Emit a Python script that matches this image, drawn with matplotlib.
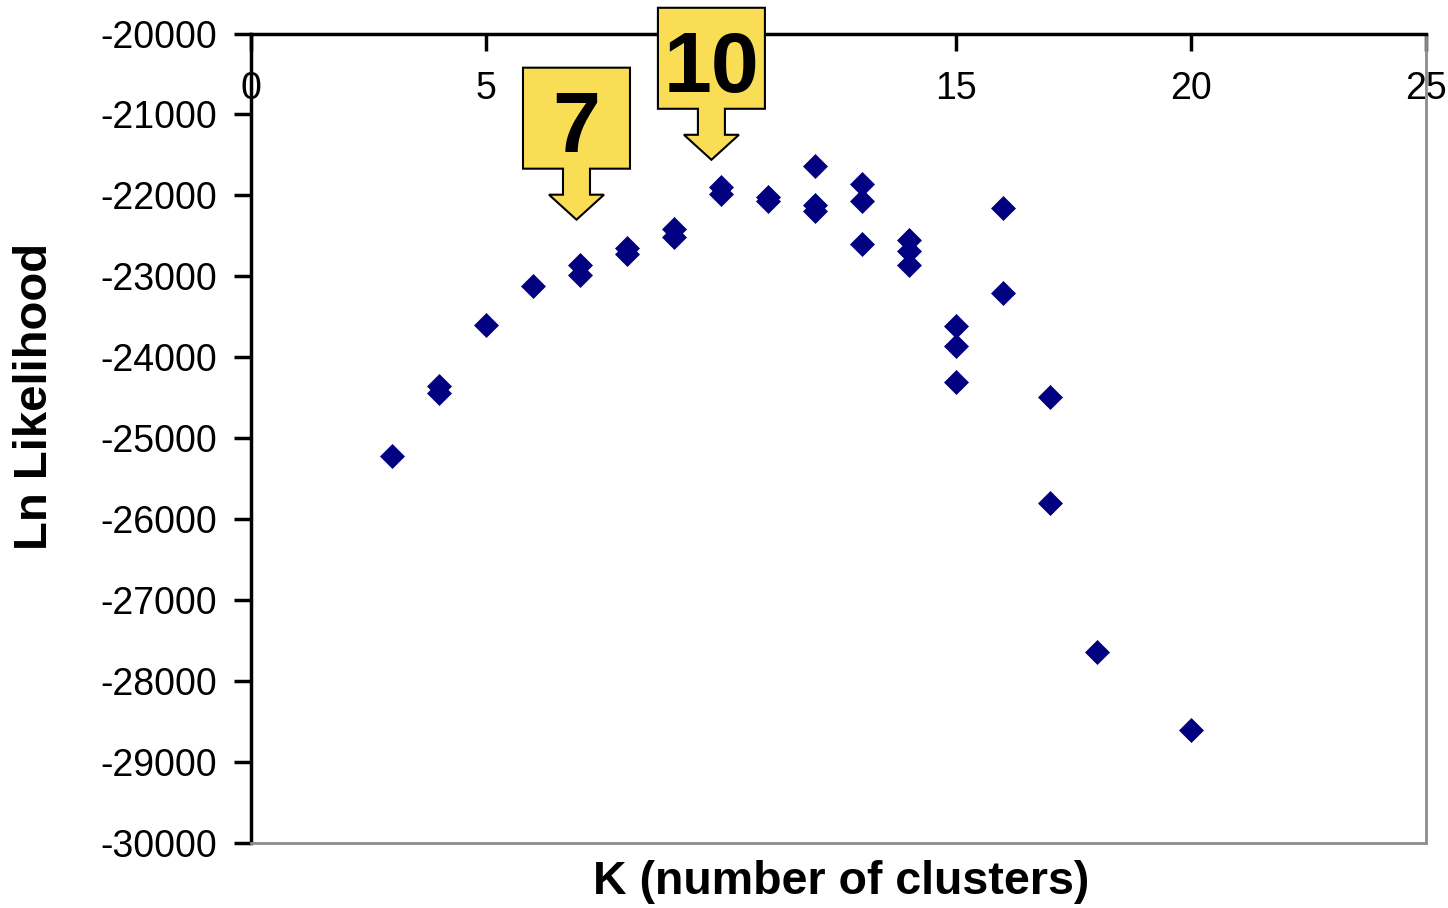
import numpy as np
import matplotlib
matplotlib.use("Agg")
import matplotlib.pyplot as plt
from matplotlib.patches import Polygon

plt.rcParams['font.family'] = ['Liberation Sans', 'DejaVu Sans']

# runs of the clustering for each K
k_values = [3, 4, 4, 5, 6, 7, 7, 8, 8, 9, 9, 10, 10, 11, 11,
            12, 12, 12, 13, 13, 13, 14, 14, 14, 15, 15, 15,
            16, 16, 17, 17, 18, 20]
ln_likelihood = [-25225, -24352, -24435, -23603, -23125, -22862, -22985,
                 -22644, -22726, -22421, -22508, -21894, -21977, -22023, -22065,
                 -21631, -22117, -22195, -21853, -22067, -22597,
                 -22557, -22683, -22857, -23611, -23858, -24307,
                 -22158, -23209, -24486, -25798, -27640, -28606]

x_ticks = [0, 5, 10, 15, 20, 25]
y_ticks = list(range(-30000, -19999, 1000))

# callouts pointing at the chosen K
callout_labels = ["7", "10"]
callout_k = [6.93, 9.80]
callout_y = [-22300, -21560]

W, H = 1448, 908
fig = plt.figure(figsize=(W / 100, H / 100), dpi=100)
ax = fig.add_axes([250.7 / W, 1 - 843 / H, (1426 - 250.7) / W, (843 - 33.5) / H])

ax.plot(k_values, ln_likelihood, linestyle='none', marker='D', markersize=12.5,
        color='#000080', markeredgewidth=0.5, zorder=3, clip_on=False)

ax.set_xlim(0, 25)
ax.set_ylim(-30000, -20000)
ax.set_xticks(x_ticks)
ax.set_yticks(y_ticks)
ax.set_yticklabels([str(v) for v in y_ticks])

ax.xaxis.tick_top()
ax.tick_params(axis='x', direction='in', length=12, width=2.5, labelsize=27, pad=-53)
ax.tick_params(axis='y', direction='out', length=12, width=2.5, labelsize=27, pad=12)

for side in ['top', 'left']:
    ax.spines[side].set_color('black')
    ax.spines[side].set_linewidth(2.5)
for side in ['bottom', 'right']:
    ax.spines[side].set_color('#8c8c8c')
    ax.spines[side].set_linewidth(2)

fig.text(841 / W, 1 - 882 / H, "K (number of clusters)", fontsize=33.5,
         fontweight='bold', ha='center', va='center')
fig.text(35 / W, 1 - 396 / H, "Ln Likelihood", fontsize=34, fontweight='bold',
         ha='center', va='center', rotation=90)

# callout arrow shape, in pixels relative to the tip
box_w, box_h = 107, 101
shaft_w, shaft_h = 27, 26
head_w, head_h = 55, 25
for label, k, y in zip(callout_labels, callout_k, callout_y):
    tx, ty = ax.transData.transform((k, y))
    shape = [
        (0, 0),
        (head_w / 2, head_h),
        (shaft_w / 2, head_h),
        (shaft_w / 2, head_h + shaft_h),
        (box_w / 2, head_h + shaft_h),
        (box_w / 2, head_h + shaft_h + box_h),
        (-box_w / 2, head_h + shaft_h + box_h),
        (-box_w / 2, head_h + shaft_h),
        (-shaft_w / 2, head_h + shaft_h),
        (-shaft_w / 2, head_h),
        (-head_w / 2, head_h),
    ]
    verts = [((tx + dx) / W, (ty + dy) / H) for dx, dy in shape]
    fig.add_artist(Polygon(verts, closed=True, facecolor='#F9DE55',
                           edgecolor='black', linewidth=1.5,
                           transform=fig.transFigure, zorder=5))
    fig.text(tx / W, (ty + head_h + shaft_h + 17) / H, label, fontsize=62,
             fontweight='bold', ha='center', va='baseline', zorder=6)

fig.savefig('out.png', dpi=100)
